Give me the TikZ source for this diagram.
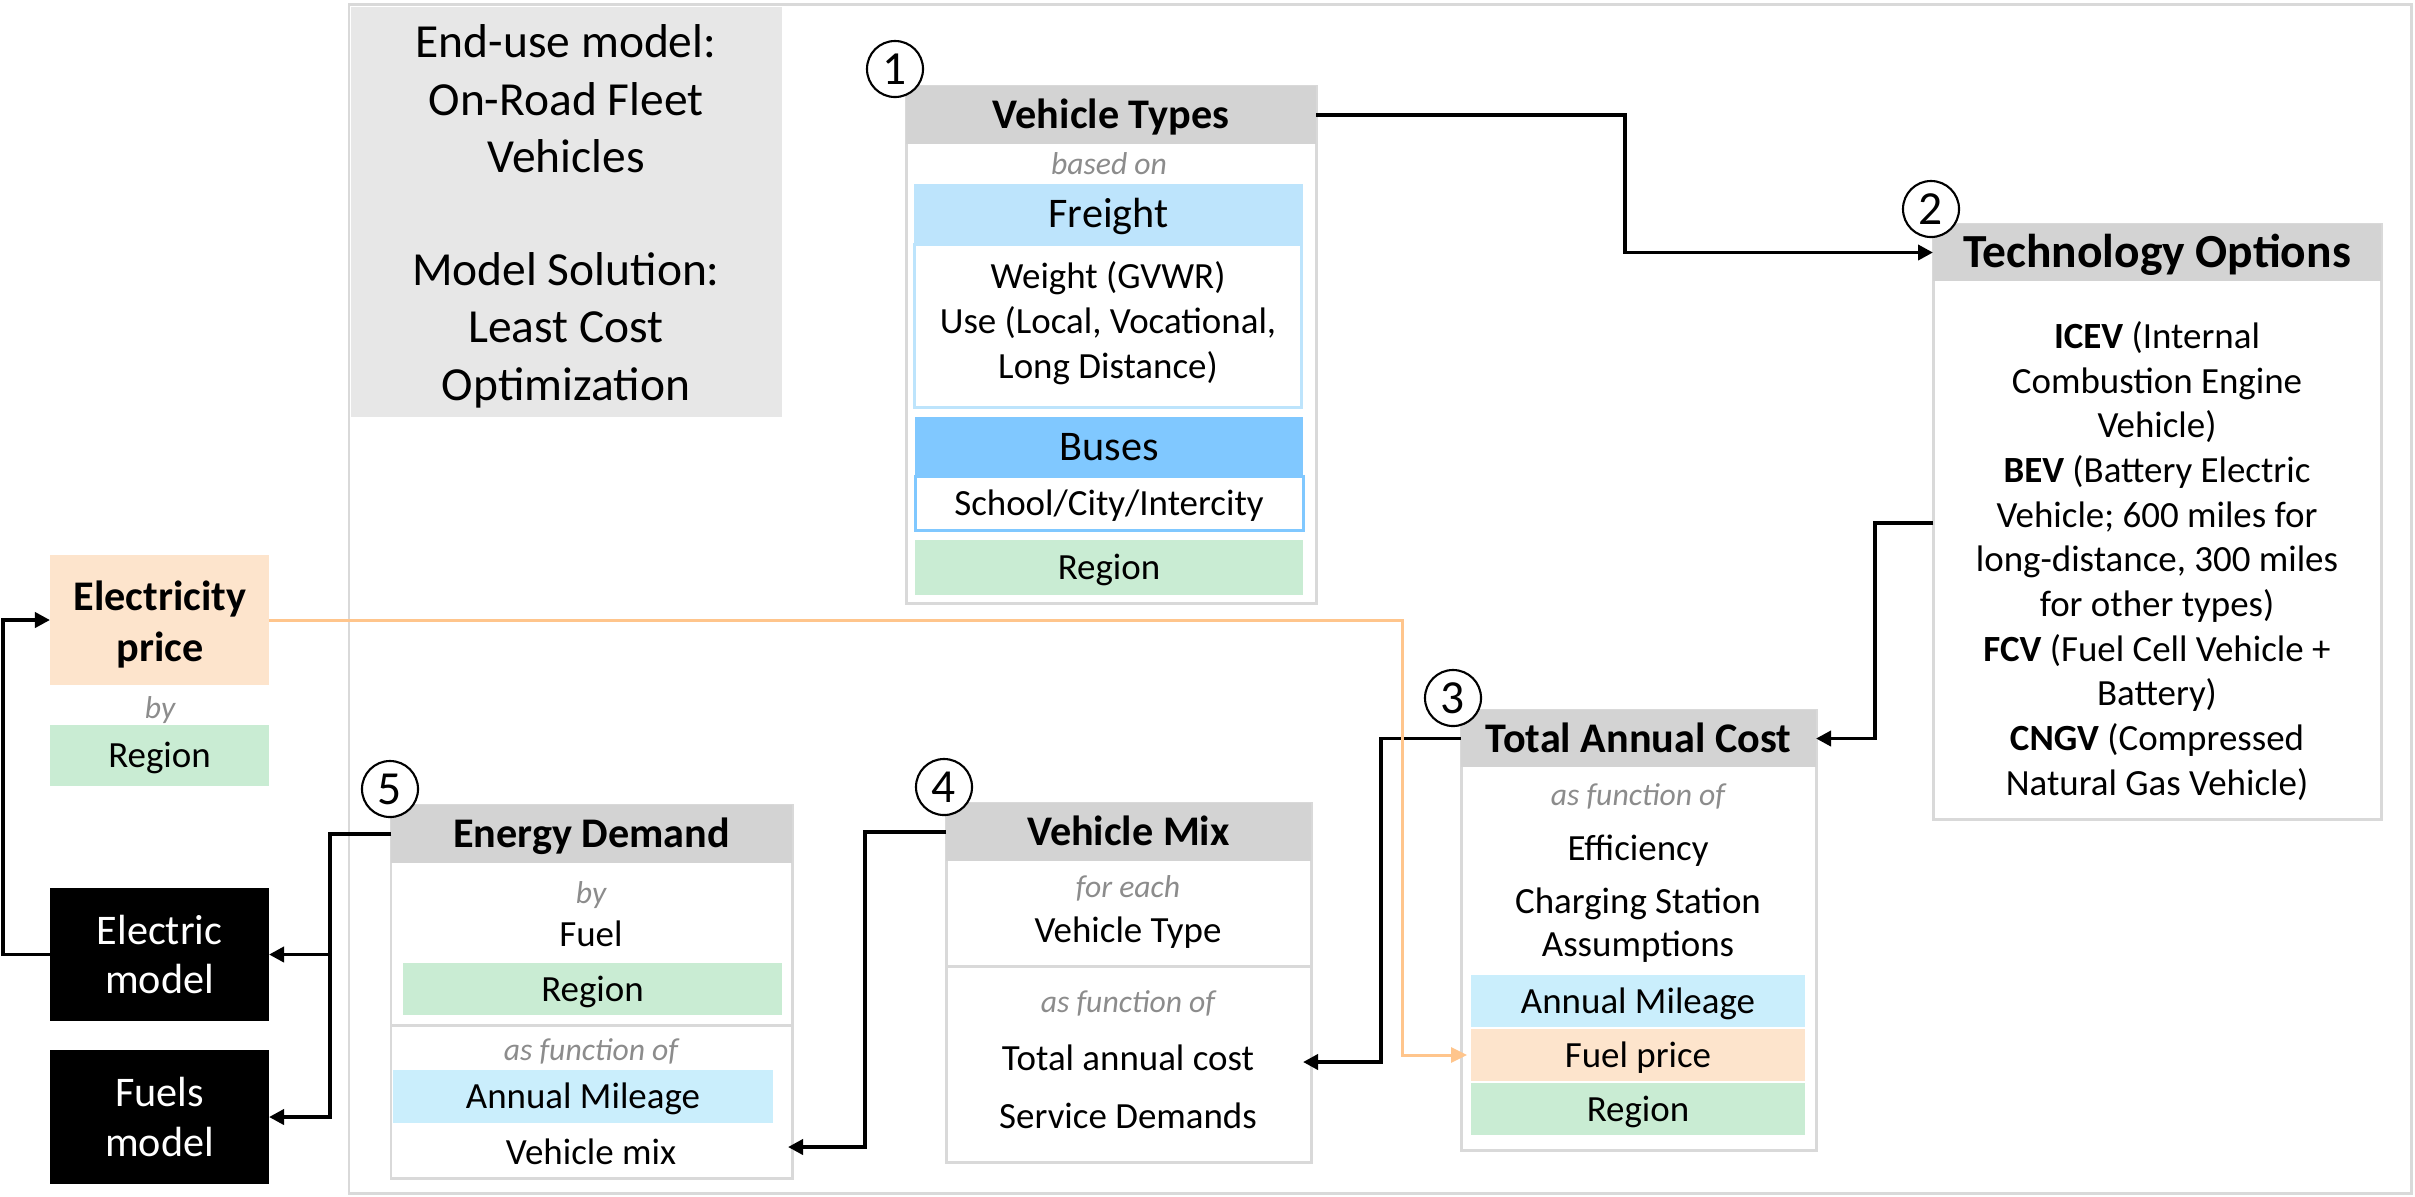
\documentclass[tikz,border=0pt]{standalone}
\usepackage{fontspec}
\setmainfont{Carlito}
\usetikzlibrary{arrows.meta}
\definecolor{hdrgray}{RGB}{211,211,211}
\definecolor{edgegray}{RGB}{217,217,217}
\definecolor{infogray}{RGB}{231,231,231}
\definecolor{notegray}{RGB}{140,140,140}
\definecolor{freightblue}{RGB}{189,228,252}
\definecolor{busblue}{RGB}{128,200,255}
\definecolor{mileblue}{RGB}{202,238,252}
\definecolor{regiongreen}{RGB}{201,236,211}
\definecolor{peach}{RGB}{253,228,204}
\definecolor{orangeline}{RGB}{255,197,140}
\newcommand\fs[2]{\fontsize{#1}{#2}\selectfont}

\begin{document}
\begin{tikzpicture}[x=0.01cm, y=-0.01cm,
  sz/.style 2 args={minimum width=#1*0.01cm, minimum height=#2*0.01cm},
  blk/.style={inner sep=0pt, outer sep=0pt, anchor=north west},
  % fixed text boxes so that single lines sit on a common optical centre
  tb12/.style={text height=9pt, text depth=1.2pt},
  tb105/.style={text height=7.9pt, text depth=1.05pt},
  tb9/.style={text height=6.75pt, text depth=0.9pt},
  panel/.style={blk, draw=edgegray, line width=0.85pt, fill=white},
  hdr/.style={blk, fill=hdrgray, font=\bfseries\fs{12}{14}, tb12},
  band/.style={blk, fill=#1, font=\fs{10.5}{12.7}, tb105},
  body/.style={font=\fs{10.5}{12.7}, align=center},
  line/.style={font=\fs{10.5}{12.7}, tb105},
  note/.style={font=\itshape\fs{9}{11}, text=notegray, tb9},
  big/.style={font=\fs{12}{14}, tb12},
  num/.style={circle, draw, fill=white, line width=0.6pt, minimum size=0.56cm,
    inner sep=0pt, font=\fs{13.5}{16}},
  link/.style={line width=1.1pt, -{Triangle[length=0.15cm,width=0.15cm]}},
  feed/.style={orangeline, line width=0.85pt, -{Triangle[length=0.16cm,width=0.15cm]}},
  blackbox/.style={blk, fill=black, text=white, font=\fs{12}{14.2}, align=center},
  divider/.style={edgegray, line width=0.85pt},
]
% canvas
\fill[white] (0,0) rectangle (2415,1196);
\useasboundingbox (0,0) rectangle (2415,1196);

% outer frame of the end-use model
\node[blk, draw=edgegray, line width=0.85pt, sz={2062}{1189}] (frame) at (349,4) {};

% model description
\node[blk, fill=infogray, sz={431}{410}] (info) at (351,7) {};
\node[font=\fs{13.5}{16.35}, align=center] (infoA) at (566,99)
  {End-use model:\\On-Road Fleet\\Vehicles};
\node[font=\fs{13.5}{16.35}, align=center] (infoB) at (566,330)
  {Model Solution:\\Least Cost\\Optimization};

% 1: vehicle types
\node[panel, sz={410}{517}] (vt) at (906,86) {};
\node[hdr, sz={410}{58}] (vth) at (906,86) {Vehicle Types};
\node[note] (vtnote) at (1109,164) {based on};
\node[band=freightblue, sz={389}{59}, big] (frt) at (914,184) {Freight};
\node[blk, draw=freightblue, line width=0.85pt, sz={387}{163}] (frtd) at (914,244) {};
\node[body] (frtdt) at (1108,323) {Weight (GVWR)\\Use (Local, Vocational,\\Long Distance)};
\node[band=busblue, sz={388}{59}, big] (bus) at (915,417) {Buses};
\node[blk, draw=busblue, line width=0.85pt, sz={388}{54}, line] (busd) at (915,476) {School/City/Intercity};
\node[band=regiongreen, sz={388}{55}] (vtreg) at (915,540) {Region};
\node[num] (n1) at (895,69) {1};

% 2: technology options
\node[panel, sz={448}{595}] (to) at (1933,224) {};
\node[hdr, sz={448}{57}, font=\bfseries\fs{13.5}{16}, text height=10.1pt, text depth=1.35pt] (toh) at (1933,224) {Technology Options};
\node[body] (tob) at (2157,561) {\textbf{ICEV} (Internal\\Combustion Engine\\Vehicle)\\
  \textbf{BEV} (Battery Electric\\Vehicle; 600 miles for\\long-distance, 300 miles\\for other types)\\
  \textbf{FCV} (Fuel Cell Vehicle +\\Battery)\\
  \textbf{CNGV} (Compressed\\Natural Gas Vehicle)};
\node[num] (n2) at (1931,209) {2};

% 3: total annual cost
\node[panel, sz={355}{440}] (tac) at (1461,710) {};
\node[hdr, sz={355}{57}] (tach) at (1461,710) {Total Annual Cost};
\node[note] (tacnote) at (1638,795) {as function of};
\node[line] (taceff) at (1638,848) {Efficiency};
\node[body, font=\fs{10.5}{12.2}] (taccs) at (1638,925) {Charging Station\\Assumptions};
\node[band=mileblue, sz={334}{52}] (tacmile) at (1471,975) {Annual Mileage};
\node[band=peach, sz={334}{52}] (fuel) at (1471,1029) {Fuel price};
\node[band=regiongreen, sz={334}{52}] (tacreg) at (1471,1083) {Region};
\node[num] (n3) at (1453,698) {3};

% 4: vehicle mix
\node[panel, sz={365}{359}] (vm) at (946,803) {};
\node[hdr, sz={365}{58}] (vmh) at (946,803) {Vehicle Mix};
\node[note] (vmnote) at (1128,887) {for each};
\node[line] (vmtype) at (1128,930) {Vehicle Type};
\draw[divider] (vm.west |- 0,966) -- (vm.east |- 0,966);
\node[note] (vmnote2) at (1128,1002) {as function of};
\node[line] (vmcost) at (1128,1058) {Total annual cost};
\node[line] (vmserv) at (1128,1116) {Service Demands};
\coordinate (vmin) at (1303,1062);
\node[num] (n4) at (944,787) {4};

% 5: energy demand
\node[panel, sz={401}{373}] (ed) at (391,805) {};
\node[hdr, sz={401}{58}] (edh) at (391,805) {Energy Demand};
\node[note] (ednote) at (591,893) {by};
\node[line] (edfuel) at (591,934) {Fuel};
\node[band=regiongreen, sz={379}{52}] (edreg) at (403,963) {Region};
\draw[divider] (ed.west |- 0,1025) -- (ed.east |- 0,1025);
\node[note] (ednote2) at (591,1050) {as function of};
\node[band=mileblue, sz={380}{53}] (edmile) at (393,1070) {Annual Mileage};
\node[line] (edmix) at (591,1152) {Vehicle mix};
\coordinate (edin) at (788,1147);
\node[num] (n5) at (390,789) {5};

% external models and electricity price
\node[blk, fill=peach, sz={219}{130}] (ep) at (50,555) {};
\node[font=\bfseries\fs{12}{14.5}, align=center] (eptext) at (160,624) {Electricity\\price};
\node[note] (epnote) at (160,708) {by};
\node[band=regiongreen, sz={219}{61}] (epreg) at (50,725) {Region};
\node[blackbox, sz={219}{133}] (em) at (50,888) {Electric\\model};
\node[blackbox, sz={219}{134}] (fm) at (50,1050) {Fuels\\model};

% connectors
\draw[link] (vth.east) -- ++(309,0) |- (toh.west);
\draw[link] (to.west |- 0,523) -- ++(-58,0) |- (tach.east);
\draw[link] (tach.west) -- ++(-80,0) |- (vmin);
\draw[link] (vmh.west) -- ++(-81,0) |- (edin);
\draw[link] (edh.west) -- ++(-61,0) coordinate (edsplit) |- (fm.east);
\draw[link] (edsplit) |- (em.east);
\draw[link] (em.west) -- ++(-47,0) |- (ep.west);
\draw[feed] (ep.east) -- (1402,620) |- ([xshift=-0.04cm]fuel.west);
\end{tikzpicture}
\end{document}
